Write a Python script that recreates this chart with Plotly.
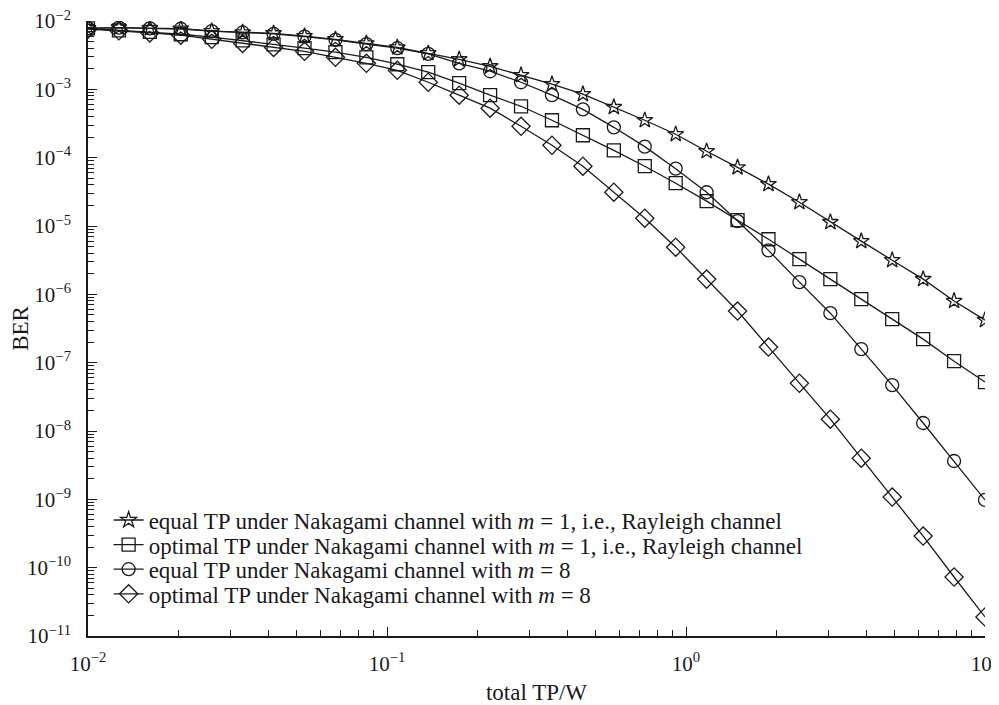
import plotly.graph_objects as go

# total TP/W (30 log-spaced points from 1e-2 to 1e1)
tp = [0.01, 0.01269, 0.016103, 0.020434, 0.025929, 0.032903, 0.041753, 0.052983,
      0.067234, 0.085317, 0.10826, 0.13738, 0.17433, 0.22122, 0.28072, 0.35622,
      0.45204, 0.57362, 0.7279, 0.92367, 1.1721, 1.4874, 1.8874, 2.395, 3.0392,
      3.8566, 4.8939, 6.2102, 7.8805, 10.0]

ber_equal_m1 = [7.8e-3, 8.0e-3, 7.8e-3, 7.7e-3, 7.1e-3, 6.8e-3, 6.6e-3, 6.0e-3,
                5.4e-3, 4.7e-3, 4.1e-3, 3.37e-3, 2.75e-3, 2.17e-3, 1.61e-3, 1.19e-3,
                8.5e-4, 5.5e-4, 3.53e-4, 2.2e-4, 1.24e-4, 7.2e-5, 4.1e-5, 2.23e-5,
                1.14e-5, 6.0e-6, 3.16e-6, 1.67e-6, 8.0e-7, 4.2e-7]

ber_opt_m1 = [7.8e-3, 7.3e-3, 6.95e-3, 6.4e-3, 5.8e-3, 5.2e-3, 4.56e-3, 4.0e-3,
              3.5e-3, 2.94e-3, 2.33e-3, 1.78e-3, 1.23e-3, 8.2e-4, 5.65e-4, 3.53e-4,
              2.13e-4, 1.28e-4, 7.5e-5, 4.23e-5, 2.31e-5, 1.22e-5, 6.4e-6, 3.27e-6,
              1.67e-6, 8.5e-7, 4.33e-7, 2.21e-7, 1.05e-7, 5.2e-8]

ber_equal_m8 = [7.8e-3, 8.0e-3, 7.8e-3, 7.7e-3, 7.1e-3, 6.8e-3, 6.5e-3, 5.9e-3,
                5.3e-3, 4.6e-3, 4.0e-3, 3.3e-3, 2.4e-3, 1.84e-3, 1.27e-3, 8.2e-4,
                5.1e-4, 2.78e-4, 1.45e-4, 6.9e-5, 3.12e-5, 1.18e-5, 4.4e-6, 1.51e-6,
                5.3e-7, 1.58e-7, 4.7e-8, 1.31e-8, 3.64e-9, 9.8e-10]

ber_opt_m8 = [7.6e-3, 7.2e-3, 6.7e-3, 6.2e-3, 5.4e-3, 4.7e-3, 4.1e-3, 3.6e-3,
              2.94e-3, 2.4e-3, 1.9e-3, 1.27e-3, 8.2e-4, 5.3e-4, 2.88e-4, 1.52e-4,
              7.5e-5, 3.12e-5, 1.3e-5, 4.9e-6, 1.67e-6, 5.7e-7, 1.69e-7, 5.0e-8,
              1.49e-8, 4.0e-9, 1.08e-9, 2.9e-10, 7.3e-11, 1.9e-11]

series_names = [
    "equal TP under Nakagami channel with <i>m</i> = 1, i.e., Rayleigh channel",
    "optimal TP under Nakagami channel with <i>m</i> = 1, i.e., Rayleigh channel",
    "equal TP under Nakagami channel with <i>m</i> = 8",
    "optimal TP under Nakagami channel with <i>m</i> = 8",
]
series_values = [ber_equal_m1, ber_opt_m1, ber_equal_m8, ber_opt_m8]
symbols = ["star-open", "square-open", "circle-open", "diamond-open"]
sizes = [12, 13, 13, 14]
legend_ids = ["legend", "legend2", "legend3", "legend4"]
legend_rows_y = [0.1885, 0.1485, 0.1085, 0.0685]

x_tickvals = [1e-2, 1e-1, 1e0, 1e1]
x_ticktext = ["10<sup>−2</sup>", "10<sup>−1</sup>", "10<sup>0</sup>", "10<sup>1</sup>"]
y_exps = list(range(-11, -1))
y_tickvals = [10.0 ** e for e in y_exps]
y_ticktext = ["10<sup>−%d</sup>" % (-e) for e in y_exps]

ink = "#1a1a1a"
FONT = "Liberation Serif"
FS = 23
TFS = 21

fig = go.Figure()
for name, vals, sym, sz, lg in zip(series_names, series_values, symbols, sizes, legend_ids):
    fig.add_trace(go.Scatter(
        x=tp, y=vals, name=name, mode="lines+markers", legend=lg,
        line=dict(color=ink, width=1.3),
        marker=dict(symbol=sym, size=sz, color=ink, line=dict(color=ink, width=1.3)),
    ))

minor_x = [m * 10.0 ** d for d in (-2, -1, 0) for m in range(2, 10)]
minor_y = [m * 10.0 ** d for d in range(-11, -2) for m in range(2, 10)]

axis_common = dict(
    type="log", showgrid=False, zeroline=False, showline=True, automargin=False,
    linecolor=ink, linewidth=1.6, ticks="inside", tickcolor=ink,
    tickwidth=1.3, ticklen=9, mirror=False, ticklabeloverflow="allow",
    tickfont=dict(family=FONT, size=TFS, color=ink),
    title_font=dict(family=FONT, size=FS, color=ink),
)

fig.update_xaxes(
    **axis_common, range=[-2, 1], tickmode="array",
    tickvals=x_tickvals, ticktext=x_ticktext, ticklabelstandoff=8,
    title_text="total TP/W", title_standoff=12,
    minor=dict(tickmode="array", tickvals=minor_x, ticks="inside", ticklen=6,
               tickcolor=ink, tickwidth=1.2),
)
fig.update_yaxes(
    **axis_common, range=[-11, -2], tickmode="array",
    tickvals=y_tickvals, ticktext=y_ticktext, ticklabelstandoff=11,
    minor=dict(tickmode="array", tickvals=minor_y, ticks="inside", ticklen=6,
               tickcolor=ink, tickwidth=1.2),
)

legend_style = dict(
    xanchor="left", yanchor="middle", x=0.023,
    bgcolor="rgba(0,0,0,0)", borderwidth=0,
    font=dict(family=FONT, size=FS, color=ink),
    itemsizing="trace",
)
layout_legends = {lg: dict(legend_style, y=yy) for lg, yy in zip(legend_ids, legend_rows_y)}

# page body has an 8px margin, so the figure is sized/margined to land the
# plot area at the reference position in the 999x705 window
fig.update_layout(
    width=991, height=697,
    margin=dict(l=79.5, r=14, t=13, b=69, pad=0),
    plot_bgcolor="white", paper_bgcolor="white",
    font=dict(family=FONT, size=FS, color=ink),
    showlegend=True,
    annotations=[dict(
        text="BER", xref="paper", yref="paper", x=-0.0755, y=0.5,
        xanchor="center", yanchor="middle", textangle=-90, showarrow=False,
        font=dict(family=FONT, size=FS, color=ink),
    )],
    **layout_legends,
)

fig.write_html("out.html")
